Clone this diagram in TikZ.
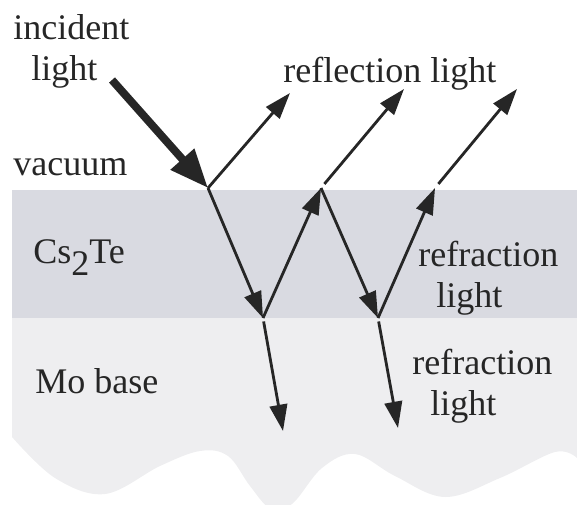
\documentclass[tikz,border=0pt]{standalone}
\usepackage{fontspec}
\setmainfont{Liberation Serif}
\usetikzlibrary{arrows.meta, positioning}
\definecolor{cstecol}{RGB}{217,218,225}
\definecolor{mocol}{RGB}{238,238,240}
\definecolor{raycol}{RGB}{38,38,38}

\begin{document}
\begin{tikzpicture}[
  x=0.02cm, y=-0.02cm,
  lbl/.style={font=\fontsize{20.5}{23}\selectfont, inner sep=0pt,
    align=left, text=black!85, anchor=base west},
  ray/.style={-{Triangle[length=15pt, width=10pt]}, line width=1.6pt, draw=raycol},
  bigray/.style={-{Triangle[length=22pt, width=17pt]}, line width=4.5pt, draw=raycol}
]
  \useasboundingbox (0,0) rectangle (577,504);

  % layers
  \fill[cstecol] (12,190) rectangle (577,318);
  \fill[mocol] (12,318) -- (577,318) -- plot[smooth, tension=0.6] coordinates {
    (577,458) (555,452) (500,478) (445,497) (395,476) (355,454) (322,468)
    (292,504) (270,508) (250,486) (228,456) (200,451) (160,466) (105,494)
    (55,478) (12,437)} -- cycle;

  % labels (anchor is the baseline of the last line)
  \node[lbl] (incident) at (13,80) {incident\\\hspace*{0.5em}light};
  \node[lbl] (vacuum) at (13,175) {vacuum};
  \node[lbl] (reflect) at (283,82) {reflection light};
  \node[lbl] (cste) at (33,263) {Cs\raisebox{-7pt}{2}Te};
  \node[lbl] (refrup) at (418,307) {refraction\\\hspace*{0.5em}light};
  \node[lbl] (mobase) at (35,393) {Mo base};
  \node[lbl] (refrlow) at (412,415) {refraction\\\hspace*{0.5em}light};

  % ray points
  \coordinate (src) at (112,80);
  \coordinate (p1) at (208,188);
  \coordinate (p2) at (321,188);
  \coordinate (p3) at (435,188);
  \coordinate (r1) at (290,93);
  \coordinate (r2) at (404,89);
  \coordinate (r3) at (517,89);
  \coordinate (b1) at (263,318);
  \coordinate (b2) at (378,318);
  \coordinate (m1) at (283,431);
  \coordinate (m2) at (398,428);

  % rays
  \draw[bigray] (src) -- (p1);
  \draw[ray] (p1) -- (r1);
  \draw[ray] (p1) -- (b1);
  \draw[ray] (b1) -- (p2);
  \draw[ray, shorten <=3pt] (p2) -- (r2);
  \draw[ray] (p2) -- (b2);
  \draw[ray] (b2) -- (p3);
  \draw[ray, shorten <=3pt] (p3) -- (r3);
  \draw[ray, shorten <=2pt] (b1) -- (m1);
  \draw[ray, shorten <=2pt] (b2) -- (m2);
\end{tikzpicture}
\end{document}
